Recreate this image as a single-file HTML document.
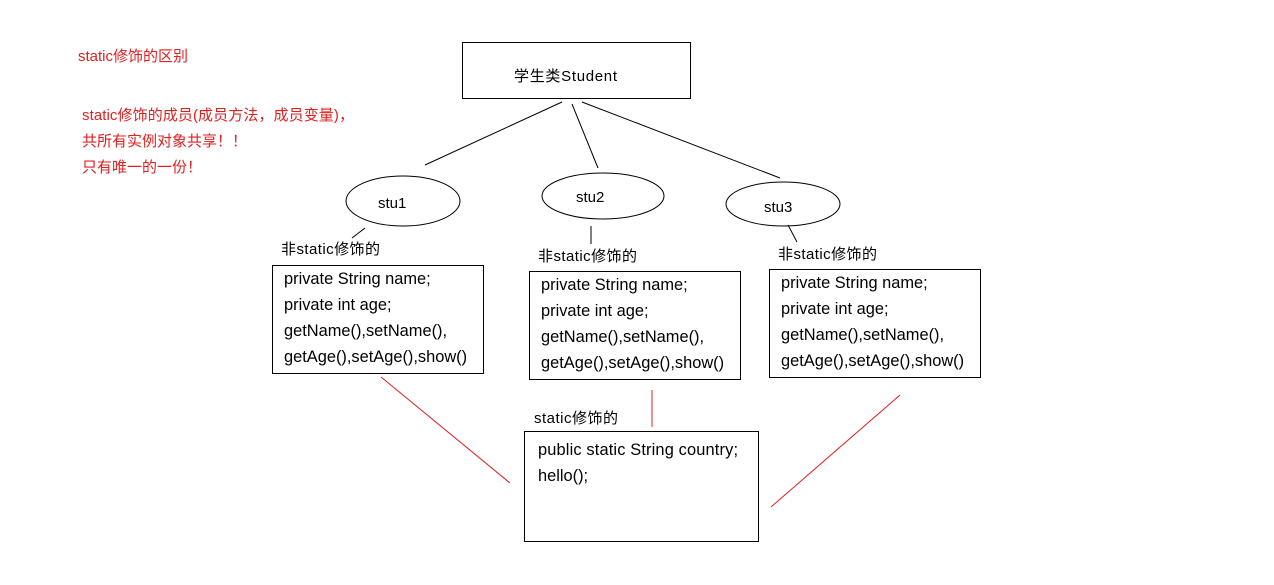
<!DOCTYPE html>
<html><head><meta charset="utf-8"><style>
html,body{margin:0;padding:0;background:#fff;}
svg text{font-family:"Liberation Sans","Noto Sans CJK SC",sans-serif;font-size:15px;fill:#000;}
svg text.r{fill:#e02020;}
svg text.c{font-size:16.4px;}
</style></head><body>
<svg width="1274" height="580" viewBox="0 0 1274 580" xmlns="http://www.w3.org/2000/svg">
<rect x="0" y="0" width="1274" height="580" fill="#fff"/>
<text class="r" x="78" y="61">static修饰的区别</text>
<text class="r" x="82" y="120" textLength="272">static修饰的成员(成员方法，成员变量)，</text>
<text class="r" x="82" y="146">共所有实例对象共享！！</text>
<text class="r" x="82" y="172">只有唯一的一份！</text>

<g fill="none" stroke="#000" stroke-width="1">
<rect x="462.5" y="42.5" width="228" height="56"/>
<line x1="562" y1="102" x2="425" y2="165"/>
<line x1="572" y1="104" x2="598" y2="168"/>
<line x1="582" y1="102" x2="780" y2="178"/>
<ellipse cx="403" cy="201" rx="57" ry="25"/>
<ellipse cx="603" cy="196" rx="61" ry="23"/>
<ellipse cx="783" cy="204" rx="57" ry="22"/>
<line x1="365" y1="228" x2="352" y2="238"/>
<line x1="591" y1="226" x2="591" y2="244"/>
<line x1="788" y1="225" x2="797" y2="242"/>
<rect x="272.5" y="265.5" width="211" height="108"/>
<rect x="529.5" y="271.5" width="211" height="108"/>
<rect x="769.5" y="269.5" width="211" height="108"/>
<rect x="524.5" y="431.5" width="234" height="110"/>
</g>
<g stroke="#e02020" stroke-width="1">
<line x1="381" y1="377" x2="510" y2="483"/>
<line x1="652" y1="390" x2="652" y2="427"/>
<line x1="900" y1="395" x2="771" y2="507"/>
</g>
<text x="514" y="81" textLength="103">学生类Student</text>
<text x="378" y="208">stu1</text>
<text x="576" y="202">stu2</text>
<text x="764" y="212">stu3</text>
<text x="281" y="254" textLength="99">非static修饰的</text>
<text x="538" y="261" textLength="99">非static修饰的</text>
<text x="778" y="259" textLength="99">非static修饰的</text>

<text class="c" x="284" y="284">private String name;</text>
<text class="c" x="284" y="310">private int age;</text>
<text class="c" x="284" y="336">getName(),setName(),</text>
<text class="c" x="284" y="362">getAge(),setAge(),show()</text>

<text class="c" x="541" y="290">private String name;</text>
<text class="c" x="541" y="316">private int age;</text>
<text class="c" x="541" y="342">getName(),setName(),</text>
<text class="c" x="541" y="368">getAge(),setAge(),show()</text>

<text class="c" x="781" y="288">private String name;</text>
<text class="c" x="781" y="314">private int age;</text>
<text class="c" x="781" y="340">getName(),setName(),</text>
<text class="c" x="781" y="366">getAge(),setAge(),show()</text>

<text x="534" y="423" textLength="84">static修饰的</text>
<text class="c" x="538" y="455" textLength="200">public static String country;</text>
<text class="c" x="538" y="481">hello();</text>
</svg>
</body></html>
